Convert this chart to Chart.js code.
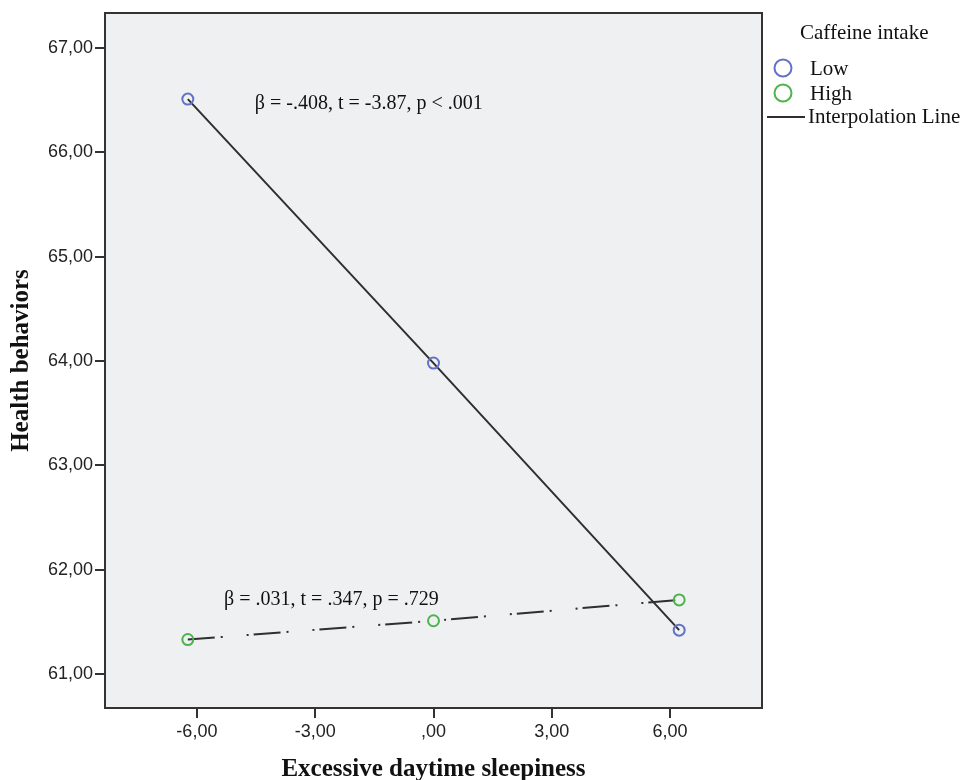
<!DOCTYPE html>
<html>
<head>
<meta charset="utf-8">
<script src="https://cdn.jsdelivr.net/npm/chart.js@4.4.1/dist/chart.umd.min.js"></script>
<style>
  html, body { margin: 0; padding: 0; background: #ffffff; }
  #wrap { width: 968px; height: 780px; position: relative; }
</style>
</head>
<body>
<div id="wrap"><canvas id="c" width="968" height="780"></canvas></div>
<script>
// ---- data ----
const xLevels = [-6.23, 0, 6.23];            // Excessive daytime sleepiness (−1 SD, mean, +1 SD)
const lowValues = [66.51, 63.98, 61.42];     // Caffeine intake: Low
const highValues = [61.33, 61.51, 61.71];    // Caffeine intake: High
const seriesNames = ['Low', 'High'];
const legendTitle = 'Caffeine intake';
const lineLegendLabel = 'Interpolation Line';
const xTicks = [-6, -3, 0, 3, 6];
const yTicks = [61, 62, 63, 64, 65, 66, 67];
const xTitle = 'Excessive daytime sleepiness';
const yTitle = 'Health behaviors';
const annotationTexts = ['β = -.408, t = -3.87, p < .001', 'β = .031, t = .347, p = .729'];
const annotationX = [-4.53, -5.31];
const annotationY = [66.47, 61.71];

// ---- styles ----
const BLUE = '#6272c8';
const GREEN = '#4db44d';
const LINE = '#2f2f2f';
const AXIS = '#333333';
const PLOT_BG = '#eff0f2';

function spssFmt(v) {
  let s = Math.abs(v).toFixed(2).replace('.', ',');
  if (s.startsWith('0,')) s = s.slice(1);
  return (v < 0 ? '-' : '') + s;
}

const plotDecor = {
  id: 'plotDecor',
  beforeDraw(chart) {
    const {ctx, chartArea: a} = chart;
    ctx.save();
    ctx.fillStyle = PLOT_BG;
    ctx.fillRect(a.left, a.top, a.right - a.left, a.bottom - a.top);
    ctx.restore();
  },
  afterDraw(chart) {
    const {ctx, chartArea: a, scales} = chart;
    ctx.save();
    ctx.strokeStyle = AXIS;
    ctx.lineWidth = 2;
    ctx.strokeRect(a.left, a.top, a.right - a.left, a.bottom - a.top);

    // annotations
    ctx.font = '20px "Liberation Serif"';
    ctx.fillStyle = '#111111';
    ctx.textBaseline = 'middle';
    ctx.textAlign = 'left';
    annotationTexts.forEach((t, i) => {
      ctx.fillText(t, scales.x.getPixelForValue(annotationX[i]), scales.y.getPixelForValue(annotationY[i]));
    });

    // legend
    ctx.font = '21px "Liberation Serif"';
    ctx.fillText(legendTitle, 800, 33);
    const colors = [BLUE, GREEN];
    const ys = [68, 93];
    seriesNames.forEach((n, i) => {
      ctx.beginPath();
      ctx.strokeStyle = colors[i];
      ctx.lineWidth = 2;
      ctx.arc(783, ys[i], 8.5, 0, Math.PI * 2);
      ctx.stroke();
      ctx.fillText(n, 810, ys[i] + 1);
    });
    ctx.beginPath();
    ctx.strokeStyle = LINE;
    ctx.lineWidth = 2;
    ctx.moveTo(767, 117);
    ctx.lineTo(805, 117);
    ctx.stroke();
    ctx.fillText(lineLegendLabel, 808, 117);
    ctx.restore();
  }
};

const tickFont = { family: '"Liberation Sans", Arial, sans-serif', size: 18 };
const titleFont = { family: '"Liberation Serif", "Times New Roman", serif', size: 25, weight: 'bold', lineHeight: '20px' };

new Chart(document.getElementById('c'), {
  type: 'scatter',
  data: {
    datasets: [
      {
        label: seriesNames[0],
        data: xLevels.map((x, i) => ({ x, y: lowValues[i] })),
        showLine: true,
        borderColor: LINE,
        borderWidth: 2,
        pointBorderColor: BLUE,
        pointBackgroundColor: 'rgba(0,0,0,0)',
        pointRadius: 5.5,
        pointBorderWidth: 2,
        pointHoverRadius: 5.5
      },
      {
        label: seriesNames[1],
        data: xLevels.map((x, i) => ({ x, y: highValues[i] })),
        showLine: true,
        borderColor: LINE,
        borderWidth: 2,
        borderDash: [27, 6, 2, 24, 2, 5],
        pointBorderColor: GREEN,
        pointBackgroundColor: 'rgba(0,0,0,0)',
        pointRadius: 5.5,
        pointBorderWidth: 2,
        pointHoverRadius: 5.5
      }
    ]
  },
  options: {
    responsive: false,
    animation: false,
    events: [],
    layout: { padding: { left: 0, top: 13, right: 206, bottom: 0 } },
    plugins: { legend: { display: false }, tooltip: { enabled: false } },
    scales: {
      x: {
        type: 'linear',
        min: -8.33,
        max: 8.33,
        afterBuildTicks: s => { s.ticks = xTicks.map(v => ({ value: v })); },
        afterFit: s => { s.height = 72; },
        grid: { drawOnChartArea: false, drawTicks: true, tickLength: 10, color: AXIS, lineWidth: 2 },
        border: { display: true, color: AXIS, width: 2 },
        ticks: { font: tickFont, color: '#222222', padding: 3, maxRotation: 0, callback: v => spssFmt(v) },
        title: { display: true, text: xTitle, font: titleFont, color: '#111111', padding: { top: 0, bottom: 0 } }
      },
      y: {
        type: 'linear',
        min: 60.674,
        max: 67.335,
        afterBuildTicks: s => { s.ticks = yTicks.map(v => ({ value: v })); },
        afterFit: s => { s.width = 105; },
        grid: { drawOnChartArea: false, drawTicks: true, tickLength: 10, color: AXIS, lineWidth: 2 },
        border: { display: true, color: AXIS, width: 2 },
        ticks: { font: tickFont, color: '#222222', padding: 2, callback: v => spssFmt(v) },
        title: { display: true, text: yTitle, font: titleFont, color: '#111111', padding: { top: 11.5, bottom: 0 } }
      }
    }
  },
  plugins: [plotDecor]
});
</script>
</body>
</html>
